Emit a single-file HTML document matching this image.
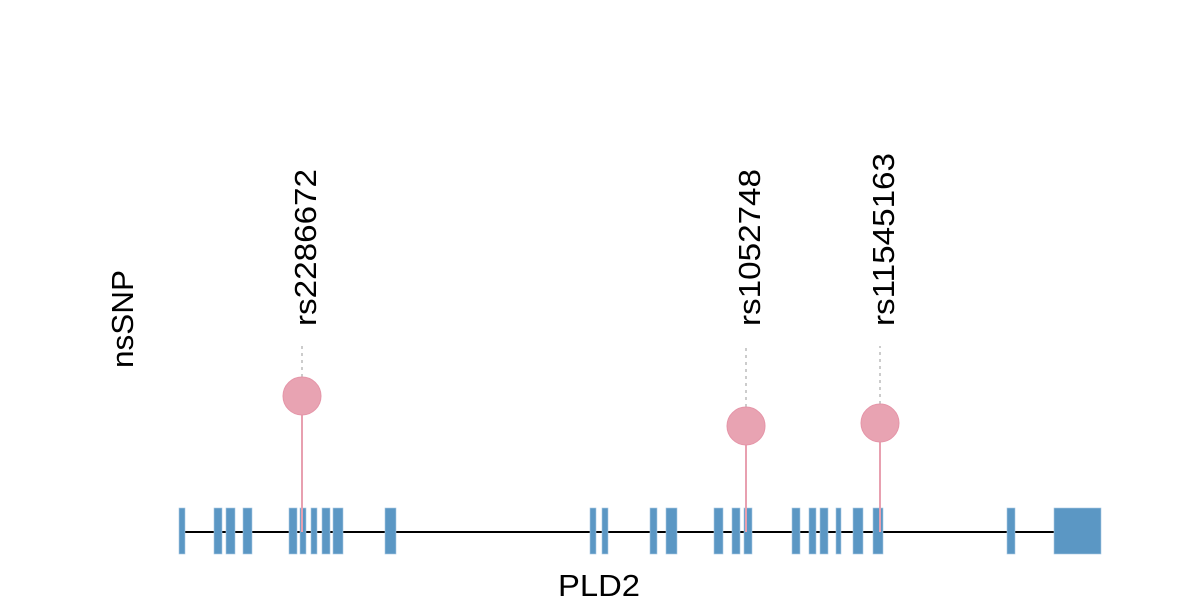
<!DOCTYPE html>
<html><head><style>body{margin:0;background:#fff}</style></head><body>
<svg width="1200" height="600" xmlns="http://www.w3.org/2000/svg" font-family="Liberation Sans, sans-serif">
<line x1="182" y1="532" x2="1100" y2="532" stroke="#000" stroke-width="2"/>
<g fill="#5b97c4" stroke="#a9c8e3" stroke-width="0.6">
<rect x="179" y="508" width="6" height="46"/>
<rect x="214" y="508" width="8" height="46"/>
<rect x="226" y="508" width="9" height="46"/>
<rect x="243" y="508" width="9" height="46"/>
<rect x="289" y="508" width="8" height="46"/>
<rect x="300" y="508" width="6" height="46"/>
<rect x="311" y="508" width="6" height="46"/>
<rect x="322" y="508" width="8" height="46"/>
<rect x="333" y="508" width="10" height="46"/>
<rect x="385" y="508" width="11" height="46"/>
<rect x="590" y="508" width="6" height="46"/>
<rect x="602" y="508" width="6" height="46"/>
<rect x="650" y="508" width="7" height="46"/>
<rect x="666" y="508" width="11" height="46"/>
<rect x="714" y="508" width="9" height="46"/>
<rect x="732" y="508" width="8" height="46"/>
<rect x="744" y="508" width="8" height="46"/>
<rect x="792" y="508" width="8" height="46"/>
<rect x="809" y="508" width="7" height="46"/>
<rect x="820" y="508" width="8" height="46"/>
<rect x="836" y="508" width="5" height="46"/>
<rect x="853" y="508" width="10" height="46"/>
<rect x="873" y="508" width="10" height="46"/>
<rect x="1007" y="508" width="8" height="46"/>
<rect x="1054" y="508" width="47" height="46"/>
</g>
<g stroke="#e8a0b0" stroke-width="2">
<line x1="302" y1="532" x2="302" y2="396"/>
<line x1="746" y1="532" x2="746" y2="426"/>
<line x1="880" y1="532" x2="880" y2="423"/>
</g>
<g stroke="#bbb" stroke-width="1.5" stroke-dasharray="3,4">
<line x1="302" y1="377" x2="302" y2="343"/>
<line x1="746" y1="407" x2="746" y2="346"/>
<line x1="880" y1="404" x2="880" y2="346"/>
</g>
<g fill="#e8a3b2" stroke="#e595a8" stroke-width="1">
<circle cx="302" cy="396" r="19"/>
<circle cx="746" cy="426" r="19"/>
<circle cx="880" cy="423" r="19"/>
</g>
<g font-size="31" fill="#000">
<text transform="translate(316,326) rotate(-90)" textLength="157" lengthAdjust="spacingAndGlyphs">rs2286672</text>
<text transform="translate(760,326) rotate(-90)" textLength="157" lengthAdjust="spacingAndGlyphs">rs1052748</text>
<text transform="translate(894,326) rotate(-90)" textLength="173" lengthAdjust="spacingAndGlyphs">rs11545163</text>
<text transform="translate(133,368) rotate(-90)" textLength="98" lengthAdjust="spacingAndGlyphs">nsSNP</text>
<text x="558" y="596" textLength="82" lengthAdjust="spacingAndGlyphs">PLD2</text>
</g>
</svg>
</body></html>
